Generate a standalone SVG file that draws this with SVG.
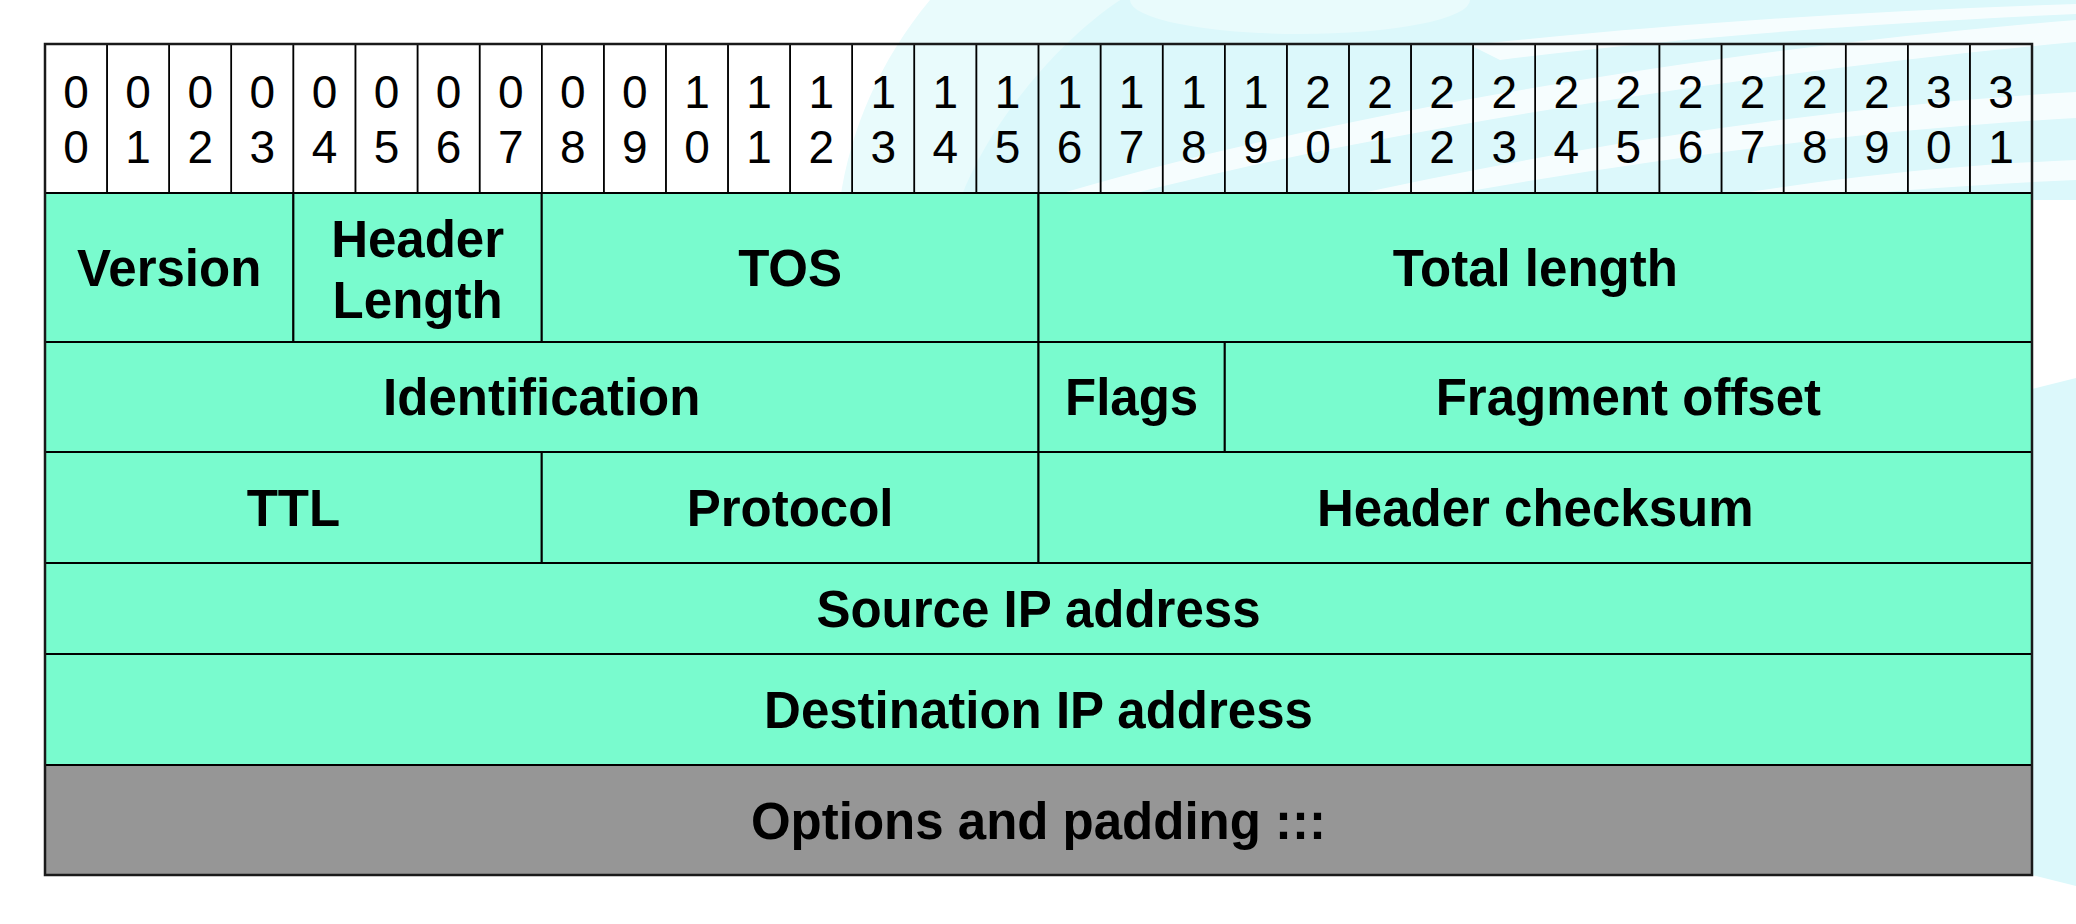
<svg xmlns="http://www.w3.org/2000/svg" width="2076" height="924" viewBox="0 0 2076 924">
  <style>
    .bg { fill: #ffffff; }
    .wash { fill: #dcf8fb; }
    .wash-soft { fill: #e9fbfc; }
    .streak { fill: #ffffff; opacity: 0.75; }
    .bit rect { fill: none; stroke: #000; stroke-width: 1.5; }
    .bit text { font-family: "Liberation Sans", Arial, sans-serif; font-size: 46px; fill: #000; text-anchor: middle; }
    .field rect { fill: #79fbce; stroke: #000; stroke-width: 2; }
    .field.opt rect { fill: #969696; }
    .field text { font-family: "Liberation Sans", Arial, sans-serif; font-weight: bold; font-size: 51px; fill: #000; text-anchor: middle; }
    .frame { fill: none; stroke: #1a1a1a; stroke-width: 2.5; }
  </style>

  <!-- page background with the template's pale cyan swooshes -->
  <rect class="bg" x="0" y="0" width="2076" height="924"/>
  <g id="backdrop">
    <path class="wash-soft" d="M 840 200 C 850 130 880 60 930 0 L 1120 0 C 1060 60 1000 130 980 200 Z"/>
    <path class="wash" d="M 960 200 C 990 120 1060 40 1120 0 L 2076 0 L 2076 200 Z"/>
    <ellipse class="wash-soft" cx="1300" cy="0" rx="170" ry="34"/>
    <path class="streak" d="M 1040 200 C 1300 120 1700 50 2076 20 L 2076 42 C 1720 75 1330 140 1110 200 Z"/>
    <path class="streak" d="M 1330 200 C 1600 140 1850 105 2076 92 L 2076 118 C 1860 130 1640 160 1420 200 Z"/>
    <path class="streak" d="M 1500 60 C 1700 35 1900 22 2076 14 L 2076 4 C 1880 10 1690 22 1470 45 Z"/>
    <path class="streak" d="M 1700 200 C 1850 175 1960 165 2076 160 L 2076 180 C 1980 184 1880 192 1790 200 Z"/>
    <path class="wash" d="M 2020 392 L 2076 378 L 2076 886 L 2020 872 Z"/>
  </g>

  <!-- bit-number ruler, 32 columns -->
  <g id="bit-ruler">
    <g class="bit" id="bit-00"><rect x="45" y="44" width="62.09" height="149"/><text x="76.05" y="108">0</text><text x="76.05" y="163">0</text></g>
    <g class="bit" id="bit-01"><rect x="107.09" y="44" width="62.09" height="149"/><text x="138.14" y="108">0</text><text x="138.14" y="163">1</text></g>
    <g class="bit" id="bit-02"><rect x="169.19" y="44" width="62.09" height="149"/><text x="200.24" y="108">0</text><text x="200.24" y="163">2</text></g>
    <g class="bit" id="bit-03"><rect x="231.28" y="44" width="62.09" height="149"/><text x="262.33" y="108">0</text><text x="262.33" y="163">3</text></g>
    <g class="bit" id="bit-04"><rect x="293.38" y="44" width="62.09" height="149"/><text x="324.43" y="108">0</text><text x="324.43" y="163">4</text></g>
    <g class="bit" id="bit-05"><rect x="355.47" y="44" width="62.09" height="149"/><text x="386.52" y="108">0</text><text x="386.52" y="163">5</text></g>
    <g class="bit" id="bit-06"><rect x="417.56" y="44" width="62.09" height="149"/><text x="448.61" y="108">0</text><text x="448.61" y="163">6</text></g>
    <g class="bit" id="bit-07"><rect x="479.66" y="44" width="62.09" height="149"/><text x="510.71" y="108">0</text><text x="510.71" y="163">7</text></g>
    <g class="bit" id="bit-08"><rect x="541.75" y="44" width="62.09" height="149"/><text x="572.8" y="108">0</text><text x="572.8" y="163">8</text></g>
    <g class="bit" id="bit-09"><rect x="603.84" y="44" width="62.09" height="149"/><text x="634.89" y="108">0</text><text x="634.89" y="163">9</text></g>
    <g class="bit" id="bit-10"><rect x="665.94" y="44" width="62.09" height="149"/><text x="696.99" y="108">1</text><text x="696.99" y="163">0</text></g>
    <g class="bit" id="bit-11"><rect x="728.03" y="44" width="62.09" height="149"/><text x="759.08" y="108">1</text><text x="759.08" y="163">1</text></g>
    <g class="bit" id="bit-12"><rect x="790.13" y="44" width="62.09" height="149"/><text x="821.18" y="108">1</text><text x="821.18" y="163">2</text></g>
    <g class="bit" id="bit-13"><rect x="852.22" y="44" width="62.09" height="149"/><text x="883.27" y="108">1</text><text x="883.27" y="163">3</text></g>
    <g class="bit" id="bit-14"><rect x="914.31" y="44" width="62.09" height="149"/><text x="945.36" y="108">1</text><text x="945.36" y="163">4</text></g>
    <g class="bit" id="bit-15"><rect x="976.41" y="44" width="62.09" height="149"/><text x="1007.46" y="108">1</text><text x="1007.46" y="163">5</text></g>
    <g class="bit" id="bit-16"><rect x="1038.5" y="44" width="62.09" height="149"/><text x="1069.55" y="108">1</text><text x="1069.55" y="163">6</text></g>
    <g class="bit" id="bit-17"><rect x="1100.59" y="44" width="62.09" height="149"/><text x="1131.64" y="108">1</text><text x="1131.64" y="163">7</text></g>
    <g class="bit" id="bit-18"><rect x="1162.69" y="44" width="62.09" height="149"/><text x="1193.74" y="108">1</text><text x="1193.74" y="163">8</text></g>
    <g class="bit" id="bit-19"><rect x="1224.78" y="44" width="62.09" height="149"/><text x="1255.83" y="108">1</text><text x="1255.83" y="163">9</text></g>
    <g class="bit" id="bit-20"><rect x="1286.88" y="44" width="62.09" height="149"/><text x="1317.93" y="108">2</text><text x="1317.93" y="163">0</text></g>
    <g class="bit" id="bit-21"><rect x="1348.97" y="44" width="62.09" height="149"/><text x="1380.02" y="108">2</text><text x="1380.02" y="163">1</text></g>
    <g class="bit" id="bit-22"><rect x="1411.06" y="44" width="62.09" height="149"/><text x="1442.11" y="108">2</text><text x="1442.11" y="163">2</text></g>
    <g class="bit" id="bit-23"><rect x="1473.16" y="44" width="62.09" height="149"/><text x="1504.21" y="108">2</text><text x="1504.21" y="163">3</text></g>
    <g class="bit" id="bit-24"><rect x="1535.25" y="44" width="62.09" height="149"/><text x="1566.3" y="108">2</text><text x="1566.3" y="163">4</text></g>
    <g class="bit" id="bit-25"><rect x="1597.34" y="44" width="62.09" height="149"/><text x="1628.39" y="108">2</text><text x="1628.39" y="163">5</text></g>
    <g class="bit" id="bit-26"><rect x="1659.44" y="44" width="62.09" height="149"/><text x="1690.49" y="108">2</text><text x="1690.49" y="163">6</text></g>
    <g class="bit" id="bit-27"><rect x="1721.53" y="44" width="62.09" height="149"/><text x="1752.58" y="108">2</text><text x="1752.58" y="163">7</text></g>
    <g class="bit" id="bit-28"><rect x="1783.63" y="44" width="62.09" height="149"/><text x="1814.68" y="108">2</text><text x="1814.68" y="163">8</text></g>
    <g class="bit" id="bit-29"><rect x="1845.72" y="44" width="62.09" height="149"/><text x="1876.77" y="108">2</text><text x="1876.77" y="163">9</text></g>
    <g class="bit" id="bit-30"><rect x="1907.81" y="44" width="62.09" height="149"/><text x="1938.86" y="108">3</text><text x="1938.86" y="163">0</text></g>
    <g class="bit" id="bit-31"><rect x="1969.91" y="44" width="62.09" height="149"/><text x="2000.96" y="108">3</text><text x="2000.96" y="163">1</text></g>
  </g>

  <!-- header fields -->
  <g class="field" id="version"><rect x="45" y="193" width="248.38" height="149"/><text x="169.2" y="286">Version</text></g>
  <g class="field" id="header-length"><rect x="293.38" y="193" width="248.37" height="149"/><text x="417.6" y="257">Header</text><text x="417.6" y="318">Length</text></g>
  <g class="field" id="tos"><rect x="541.75" y="193" width="496.75" height="149"/><text x="790.1" y="286">TOS</text></g>
  <g class="field" id="total-length"><rect x="1038.5" y="193" width="993.5" height="149"/><text x="1535.25" y="286">Total length</text></g>

  <g class="field" id="identification"><rect x="45" y="342" width="993.5" height="110"/><text x="541.75" y="415">Identification</text></g>
  <g class="field" id="flags"><rect x="1038.5" y="342" width="186.28" height="110"/><text x="1131.6" y="415">Flags</text></g>
  <g class="field" id="fragment-offset"><rect x="1224.78" y="342" width="807.22" height="110"/><text x="1628.4" y="415">Fragment offset</text></g>

  <g class="field" id="ttl"><rect x="45" y="452" width="496.75" height="111"/><text x="293.4" y="526">TTL</text></g>
  <g class="field" id="protocol"><rect x="541.75" y="452" width="496.75" height="111"/><text x="790.1" y="526">Protocol</text></g>
  <g class="field" id="header-checksum"><rect x="1038.5" y="452" width="993.5" height="111"/><text x="1535.25" y="526">Header checksum</text></g>

  <g class="field" id="source-ip"><rect x="45" y="563" width="1987" height="91"/><text x="1038.5" y="627">Source IP address</text></g>
  <g class="field" id="destination-ip"><rect x="45" y="654" width="1987" height="111"/><text x="1038.5" y="728">Destination IP address</text></g>
  <g class="field opt" id="options"><rect x="45" y="765" width="1987" height="110"/><text x="1038.5" y="839">Options and padding :::</text></g>

  <!-- outer frame -->
  <rect class="frame" x="45" y="44" width="1987" height="831"/>
</svg>
